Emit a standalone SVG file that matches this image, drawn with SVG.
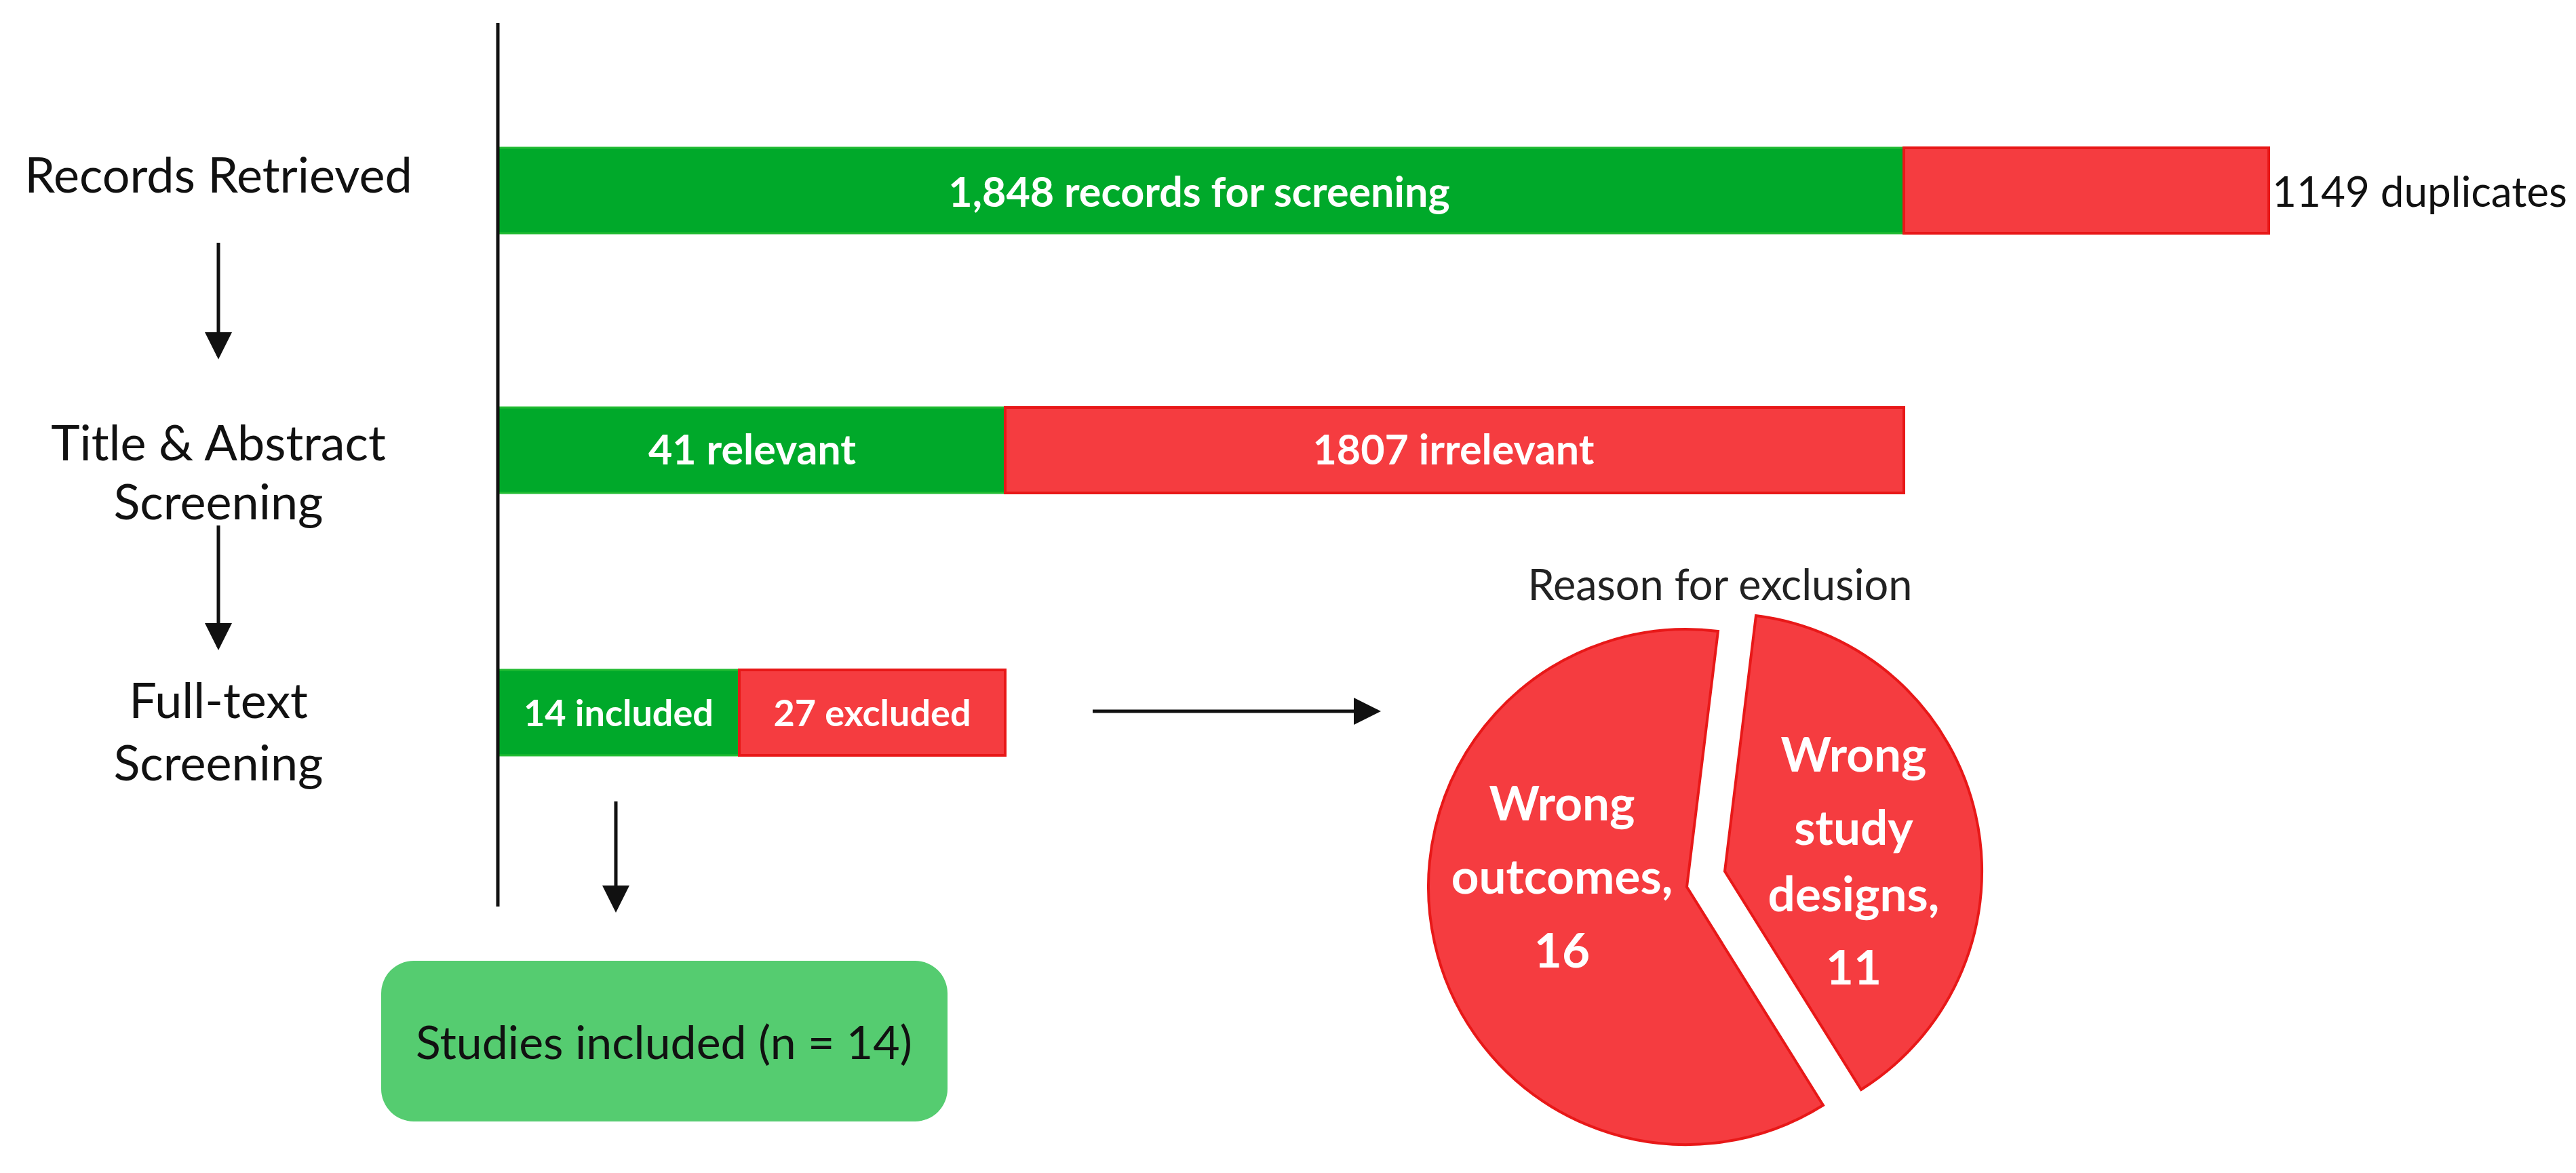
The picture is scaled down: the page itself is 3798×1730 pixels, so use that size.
<svg xmlns="http://www.w3.org/2000/svg" width="3798" height="1730" viewBox="0 0 3798 1730">
<defs>
<style>
text{font-family:Lato,"Open Sans",sans-serif}
.lbl{font-size:72px;fill:#111;text-anchor:middle}
.w{font-size:61px;fill:#fff;text-anchor:middle;font-weight:bold}
.p{font-size:71px;fill:#fff;text-anchor:middle;font-weight:bold}
.g{fill:#00a92a;stroke:#22bb33;stroke-width:3}
.r{fill:#f53c40;stroke:#e81818;stroke-width:4}
.ln{stroke:#111;stroke-width:5;fill:none}
</style>
<marker id="ah" markerWidth="8" markerHeight="8" refX="7" refY="4" orient="auto" markerUnits="strokeWidth"><path d="M0,0L8,4L0,8z" fill="#111"/></marker>
</defs>
<rect width="3798" height="1730" fill="#fff"/>
<g id="labels">
<text class="lbl" x="322" y="284">Records Retrieved</text>
<text class="lbl" x="322" y="679">Title &amp; Abstract</text>
<text class="lbl" x="322" y="766">Screening</text>
<text class="lbl" x="322" y="1059">Full-text</text>
<text class="lbl" x="322" y="1151">Screening</text>
</g>
<g id="bar1">
<rect class="g" x="734" y="218" width="2073" height="126"/>
<rect class="r" x="2807" y="218" width="538" height="126"/>
<text class="w" x="1768" y="305">1,848 records for screening</text>
<text x="3350" y="305" style="font-size:62px;fill:#111">1149 duplicates</text>
</g>
<g id="bar2">
<rect class="g" x="734" y="601" width="748" height="126"/>
<rect class="r" x="1482" y="601" width="1325" height="126"/>
<text class="w" x="1109" y="685">41 relevant</text>
<text class="w" x="2143" y="685">1807 irrelevant</text>
</g>
<g id="bar3">
<rect class="g" x="734" y="988" width="356" height="126"/>
<rect class="r" x="1090" y="988" width="392" height="126"/>
<text class="w" x="912" y="1071" style="font-size:54px">14 included</text>
<text class="w" x="1286" y="1071" style="font-size:54px">27 excluded</text>
</g>
<g id="included">
<rect x="562" y="1417" width="835" height="237" rx="48" fill="#55cc70"/>
<text x="979" y="1562" style="font-size:68px;fill:#111;text-anchor:middle">Studies included (n = 14)</text>
</g>
<g id="pie">
<text x="2536" y="885" style="font-size:63px;fill:#222;text-anchor:middle">Reason for exclusion</text>
<path class="r" d="M2487 1308 L2533 931 A380 380 0 1 0 2688 1630 Z"/>
<path class="r" d="M2543 1285 L2589 908 A380 380 0 0 1 2744 1607 Z"/>
<text class="p" x="2303" y="1210">Wrong</text>
<text class="p" x="2303" y="1318">outcomes,</text>
<text class="p" x="2303" y="1427">16</text>
<text class="p" x="2733" y="1138">Wrong</text>
<text class="p" x="2733" y="1246">study</text>
<text class="p" x="2733" y="1344">designs,</text>
<text class="p" x="2733" y="1452">11</text>
</g>
<g id="connectors">
<line class="ln" x1="734" y1="34" x2="734" y2="1337"/>
<line class="ln" x1="322" y1="358" x2="322" y2="525" marker-end="url(#ah)"/>
<line class="ln" x1="322" y1="775" x2="322" y2="954" marker-end="url(#ah)"/>
<line class="ln" x1="908" y1="1182" x2="908" y2="1341" marker-end="url(#ah)"/>
<line class="ln" x1="1611" y1="1049" x2="2031" y2="1049" marker-end="url(#ah)"/>
</g>
</svg>
